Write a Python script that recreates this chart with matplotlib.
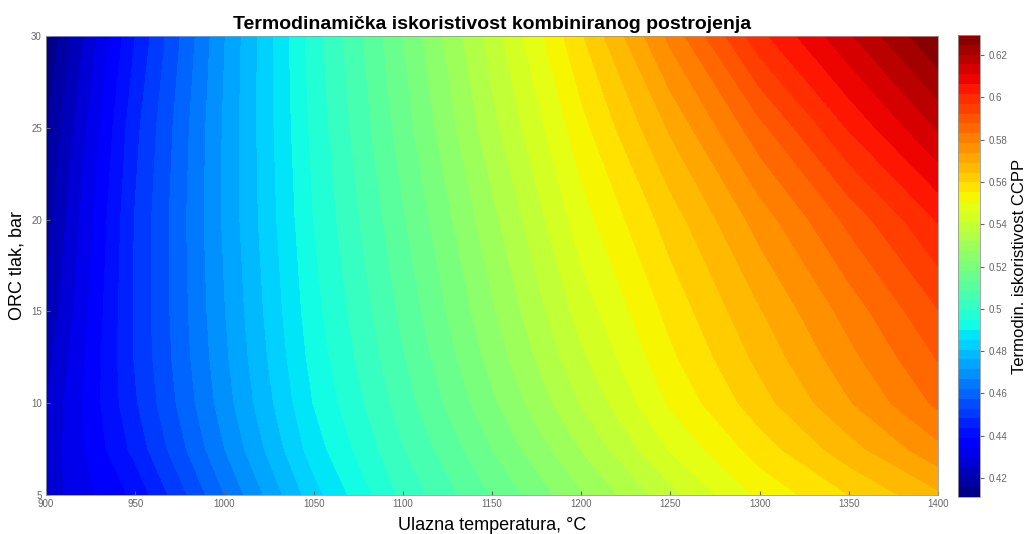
import numpy as np
import matplotlib
matplotlib.use("Agg")
import matplotlib.pyplot as plt

plt.rcParams['font.family'] = ['Liberation Sans', 'DejaVu Sans']

# Inlet temperature (deg C) and ORC pressure (bar) grid
temperature = [900, 950, 1000, 1050, 1100, 1150, 1200, 1250, 1300, 1350, 1400]
pressure = [5, 7.5, 10, 12.5, 15, 20, 25, 30]

# Combined-cycle efficiency, one row per pressure
eff_p5 = [0.427, 0.440, 0.462, 0.4834, 0.5005, 0.5135, 0.5266, 0.5395, 0.5515, 0.5597, 0.568]
eff_p7_5 = [0.426, 0.445, 0.4666, 0.4876, 0.5036, 0.5178, 0.532, 0.5462, 0.5573, 0.5671, 0.577]
eff_p10 = [0.425, 0.4475, 0.4691, 0.4901, 0.5062, 0.5215, 0.5368, 0.5511, 0.5624, 0.5732, 0.584]
eff_p12_5 = [0.423, 0.4485, 0.4703, 0.4917, 0.5081, 0.5242, 0.5402, 0.5541, 0.5657, 0.5769, 0.588]
eff_p15 = [0.421, 0.4487, 0.4711, 0.4929, 0.5097, 0.5264, 0.5431, 0.5566, 0.5686, 0.5802, 0.592]
eff_p20 = [0.418, 0.4484, 0.4721, 0.4946, 0.5126, 0.5304, 0.5483, 0.562, 0.5757, 0.5889, 0.602]
eff_p25 = [0.415, 0.4467, 0.472, 0.4959, 0.5155, 0.5349, 0.5534, 0.5697, 0.5861, 0.602, 0.616]
eff_p30 = [0.411, 0.4434, 0.4711, 0.497, 0.5178, 0.5386, 0.5591, 0.5796, 0.600, 0.6148, 0.6295]

Z = np.array([eff_p5, eff_p7_5, eff_p10, eff_p12_5, eff_p15, eff_p20, eff_p25, eff_p30])
T, P = np.meshgrid(temperature, pressure)

W, H = 1026, 534
fig = plt.figure(figsize=(W / 100, H / 100), dpi=100)
ax = fig.add_axes([46 / W, 1 - 495 / H, (938 - 46) / W, (495 - 36) / H])
cax = fig.add_axes([958 / W, 1 - 497 / H, 22 / W, (497 - 35) / H])

levels = np.linspace(Z.min(), Z.max(), 48)
cs = ax.contourf(T, P, Z, levels=levels, cmap='jet')
cs.set_edgecolor('face')
cs.set_linewidth(0.5)

ax.set_xlim(900, 1400)
ax.set_ylim(5, 30)
ax.set_xticks(np.arange(900, 1401, 50))
ax.set_yticks(np.arange(5, 31, 5))
ax.tick_params(axis='both', labelsize=7, colors='#666666', length=3, direction='in',
               top=False, right=False, pad=3)
for s in ax.spines.values():
    s.set_color('#999999')
    s.set_linewidth(0.6)

ax.set_title('Termodinamička iskoristivost kombiniranog postrojenja',
             fontsize=14, fontweight='bold', pad=5)
ax.set_xlabel('Ulazna temperatura, °C', fontsize=13, labelpad=6)
ax.set_ylabel('ORC tlak, bar', fontsize=13, labelpad=4)

cb_ticks = [0.42, 0.44, 0.46, 0.48, 0.50, 0.52, 0.54, 0.56, 0.58, 0.60, 0.62]
cb_labels = ['0.42', '0.44', '0.46', '0.48', '0.5', '0.52', '0.54', '0.56', '0.58', '0.6', '0.62']
cb = fig.colorbar(cs, cax=cax)
cb.set_ticks(cb_ticks)
cb.set_ticklabels(cb_labels)
cb.ax.tick_params(labelsize=7, colors='#666666', length=3)
cb.outline.set_edgecolor('#999999')
cb.outline.set_linewidth(0.6)
cb.set_label('Termodin. iskoristivost CCPP', fontsize=12, labelpad=3)

fig.savefig('out.png', dpi=100)
